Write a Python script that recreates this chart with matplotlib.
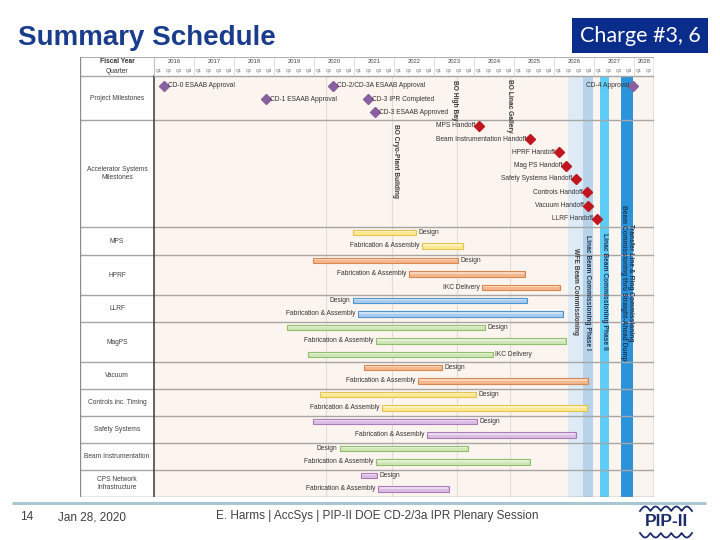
import matplotlib
matplotlib.use("Agg")
import matplotlib.pyplot as plt
from matplotlib import font_manager as fm
from matplotlib.patches import Rectangle
import numpy as np

_names = {f.name for f in fm.fontManager.ttflist}
SANS = "Liberation Sans"
NARROW = "Liberation Sans Narrow" if "Liberation Sans Narrow" in _names else "Liberation Sans"
CAL = "Lato"
plt.rcParams["font.family"] = [SANS, "DejaVu Sans"]

# ---------------- data (dates in fiscal-year decimal) ----------------
fiscal_years = [2016, 2017, 2018, 2019, 2020, 2021, 2022, 2023, 2024, 2025, 2026, 2027, 2028]
quarter_labels = ["Q1", "Q2", "Q3", "Q4"]
fy_end = 2028.5

proj_ms_names = ["CD-0 ESAAB Approval", "CD-1 ESAAB Approval", "CD-2/CD-3A ESAAB Approval",
                 "CD-3 IPR Completed", "CD-3 ESAAB Approved", "CD-4 Approval"]
proj_ms_dates = [2016.25, 2018.80, 2020.475, 2021.35, 2021.525, 2027.975]
proj_ms_side = ["right", "right", "right", "right", "right", "left"]
proj_ms_line = [0, 1, 0, 1, 2, 0]

acc_ms_names = ["MPS Handoff", "Beam Instrumentation Handoff", "HPRF Handoff", "Mag PS Handoff",
                "Safety Systems Handoff", "Controls Handoff", "Vacuum Handoff", "LLRF Handoff"]
acc_ms_dates = [2024.125, 2025.40, 2026.125, 2026.30, 2026.55, 2026.825, 2026.85, 2027.075]

systems = ["MPS", "HPRF", "LLRF", "MagPS", "Vacuum", "Controls inc. Timing",
           "Safety Systems", "Beam Instrumentation", "CPS Network\nInfrastructure"]
task_system = [0, 0, 1, 1, 1, 2, 2, 3, 3, 3, 4, 4, 5, 5, 6, 6, 7, 7, 8, 8]
task_names = ["Design", "Fabrication & Assembly",
              "Design", "Fabrication & Assembly", "IKC Delivery",
              "Design", "Fabrication & Assembly",
              "Design", "Fabrication & Assembly", "IKC Delivery",
              "Design", "Fabrication & Assembly",
              "Design", "Fabrication & Assembly",
              "Design", "Fabrication & Assembly",
              "Design", "Fabrication & Assembly",
              "Design", "Fabrication & Assembly"]
task_start = [2020.975, 2022.70,
              2019.975, 2022.375, 2024.20,
              2020.975, 2021.10,
              2019.325, 2021.55, 2019.85,
              2021.25, 2022.60,
              2020.15, 2021.70,
              2019.975, 2022.825,
              2020.65, 2021.55,
              2021.175, 2021.60]
task_end = [2022.55, 2023.725,
            2023.60, 2025.275, 2026.15,
            2025.325, 2026.225,
            2024.275, 2026.30, 2024.475,
            2023.20, 2026.85,
            2024.05, 2026.825,
            2024.075, 2026.55,
            2023.85, 2025.40,
            2021.575, 2023.375]
task_label_side = ["right", "left",
                   "right", "left", "left",
                   "left", "left",
                   "right", "left", "right",
                   "right", "left",
                   "right", "left",
                   "right", "left",
                   "left", "left",
                   "right", "left"]

phase_names = ["WFE Beam Commissioning", "Linac Beam Commissioning Phase I",
               "Linac Beam Commissioning Phase II",
               "Transfer Line & Ring Commissioning\nBeam Commissioning thru Straight-Ahead Dump"]
phase_start = [2026.35, 2026.725, 2027.15, 2027.675]
phase_end = [2026.725, 2026.975, 2027.375, 2027.975]

marker_names = ["", "BO Cryo-Plant Building", "BO High Bay", "BO Linac Gallery"]
marker_dates = [2020.30, 2021.95, 2023.575, 2024.90]

# ---------------- styles / layout ----------------
W, H = 720, 540
sys_fill = ["#fbe98f", "#f5b78c", "#a9cdee", "#cfe6b6", "#f5b78c", "#fbe98f", "#dcbde4", "#cfe6b6", "#dcbde4"]
sys_edge = ["#e6c34e", "#d98752", "#4e95cf", "#8fbf6c", "#d98752", "#e6c34e", "#a97bb8", "#8fbf6c", "#a97bb8"]
phase_color = ["#deebf6", "#b6d3ea", "#5dcdf7", "#2b93da"]
phase_text_color = ["#3a3a3a", "#1f3553", "#1f3553", "#1f3553"]
phase_text_top = [248, 235, 233, 205]
marker_text_top = [0, 124, 80, 79]
marker_text_dx = [0, 0.08, -0.07, -0.02]

row_bounds = [76, 120, 227, 255, 295, 322, 362, 389, 416, 443, 470, 497]
table_top, header_mid, header_bot = 57, 66.5, 76
x_left_px, x_lab_px, x_right_px = 80, 154, 654
px_per_year = 40.0
x_min = fiscal_years[0] - (x_lab_px - x_left_px) / px_per_year
FS = 4.8

fig = plt.figure(figsize=(7.2, 5.4), dpi=100)

# slide decoration axes (pixel coordinates)
deco = fig.add_axes([0, 0, 1, 1], zorder=0)
deco.set_xlim(0, W)
deco.set_ylim(H, 0)
deco.axis("off")

deco.text(18, 38, "Summary Schedule", fontsize=20, fontweight="bold", color="#1a3c8c",
          ha="left", va="center", family=SANS)
deco.add_patch(Rectangle((572, 18), 136, 35, color="#0a2d8c", lw=0))
deco.text(640, 35.5, "Charge #3, 6", fontsize=15.5, color="white", ha="center", va="center", family=CAL)

deco.plot([12, 706], [502.5, 502.5], color="#a9c6d3", lw=2.2, solid_capstyle="butt")
deco.text(20, 517, "14", fontsize=8.5, color="#404040", ha="left", va="center", family=NARROW)
deco.text(58, 517, "Jan 28, 2020", fontsize=8.5, color="#404040", ha="left", va="center", family=NARROW)
deco.text(377, 515.5, "E. Harms | AccSys | PIP-II DOE CD-2/3a IPR Plenary Session", fontsize=8.5,
          color="#404040", ha="center", va="center", family=NARROW)
# PIP-II logo
deco.text(666, 522, "PIP-II", fontsize=12.5, fontweight="bold", color="#1d2c6b", ha="center",
          va="center", family=NARROW)
t = np.linspace(0, 5 * np.pi, 300)
wx = np.linspace(640, 692, 300)
deco.plot(wx, 511 - 4.5 * np.abs(np.sin(t)), color="#1d2c6b", lw=1.3)
deco.plot(wx, 533 + 4.5 * np.abs(np.sin(t)), color="#1d2c6b", lw=1.3)

# ---------------- chart axes ----------------
ax = fig.add_axes([x_left_px / W, 1 - row_bounds[-1] / H, (x_right_px - x_left_px) / W,
                   (row_bounds[-1] - table_top) / H], zorder=1)
ax.set_xlim(x_min, fy_end)
ax.set_ylim(row_bounds[-1], table_top)
ax.axis("off")

# backgrounds
ax.add_patch(Rectangle((x_min, table_top), fy_end - x_min, row_bounds[-1] - table_top,
                       color="white", lw=0, zorder=0))
ax.add_patch(Rectangle((fiscal_years[0], header_bot), fy_end - fiscal_years[0],
                       row_bounds[-1] - header_bot, color="#fcf4ee", lw=0, zorder=0))

# phases (vertical bands)
for name, s, e, c, tc, top in zip(phase_names, phase_start, phase_end, phase_color,
                                  phase_text_color, phase_text_top):
    ax.add_patch(Rectangle((s, header_bot), e - s, row_bounds[-1] - header_bot, color=c, lw=0, zorder=1))
    ax.text((s + e) / 2, top, name, rotation=-90, ha="center", va="top", fontsize=FS,
            color=tc, fontweight="bold", linespacing=1.1, zorder=6)

# marker lines
for name, d, top, dx in zip(marker_names, marker_dates, marker_text_top, marker_text_dx):
    ax.plot([d, d], [header_bot, row_bounds[-1]], color="#e3dcd6", lw=0.8, zorder=1)
    if name:
        ax.text(d + dx, top, name, rotation=-90, ha="center", va="top", fontsize=FS,
                color="#3a3a3a", fontweight="bold", zorder=6)

# header
ax.text((x_min + fiscal_years[0]) / 2, (table_top + header_mid) / 2, "Fiscal Year", fontsize=FS,
        ha="center", va="center", color="#333333", fontweight="bold")
ax.text((x_min + fiscal_years[0]) / 2, (header_mid + header_bot) / 2, "Quarter", fontsize=FS,
        ha="center", va="center", color="#333333")
for yr in fiscal_years:
    x_end_year = min(yr + 1, fy_end)
    ax.text((yr + x_end_year) / 2, (table_top + header_mid) / 2, str(yr), fontsize=4.2,
            ha="center", va="center", color="#444444")
    for qi, ql in enumerate(quarter_labels):
        qx = yr + (qi + 0.5) / 4
        if qx < fy_end:
            ax.text(qx, (header_mid + header_bot) / 2, ql, fontsize=3.2, ha="center",
                    va="center", color="#555555")
    if yr > fiscal_years[0]:
        ax.plot([yr, yr], [table_top, header_bot], color="#d9d9d9", lw=0.6, zorder=2)

# grid lines of table
for yb in row_bounds[:-1]:
    ax.plot([x_min, fy_end], [yb, yb], color="#a6a6a6", lw=1.0, zorder=3)
ax.plot([x_min, fy_end], [row_bounds[-1], row_bounds[-1]], color="#8c8c8c", lw=1.0, zorder=3)
ax.plot([x_min, fy_end], [table_top, table_top], color="#b0b0b0", lw=0.8, zorder=3)
ax.plot([x_min, x_min], [table_top, row_bounds[-1]], color="#8c8c8c", lw=1.0, zorder=3)
ax.plot([fy_end, fy_end], [table_top, row_bounds[-1]], color="#8c8c8c", lw=1.0, zorder=3)
ax.plot([fiscal_years[0], fiscal_years[0]], [header_bot, row_bounds[-1]], color="#3a3a3a", lw=1.1, zorder=4)
ax.plot([fiscal_years[0], fiscal_years[0]], [table_top, header_bot], color="#bfbfbf", lw=0.8, zorder=4)

lab_x = (x_min + fiscal_years[0]) / 2
row_titles = ["Project Milestones", "Accelerator Systems\nMilestones"] + systems
for i, rt in enumerate(row_titles):
    ax.text(lab_x, (row_bounds[i] + row_bounds[i + 1]) / 2, rt, fontsize=FS, ha="center",
            va="center", color="#404040", linespacing=1.3)

pad = 0.06
# project milestones
for name, d, side, ln in zip(proj_ms_names, proj_ms_dates, proj_ms_side, proj_ms_line):
    y = row_bounds[0] + 9.7 + 13.3 * ln
    ax.plot(d, y, marker="D", ms=5.2, color="#8a5fa0", mec="#8a5fa0", zorder=7)
    if side == "right":
        ax.text(d + pad + 0.04, y, name, fontsize=FS, ha="left", va="center", color="#333333", zorder=7)
    else:
        ax.text(d - pad - 0.04, y, name, fontsize=FS, ha="right", va="center", color="#333333", zorder=7)

# accelerator systems milestones
for i, (name, d) in enumerate(zip(acc_ms_names, acc_ms_dates)):
    y = row_bounds[1] + 5.7 + 13.3 * i
    ax.plot(d, y, marker="D", ms=5.2, color="#c0161e", mec="#c0161e", zorder=7)
    ax.text(d - pad - 0.04, y, name, fontsize=FS, ha="right", va="center", color="#333333", zorder=7)

# tasks
slot = [0] * len(systems)
for name, si, s, e, side in zip(task_names, task_system, task_start, task_end, task_label_side):
    y = row_bounds[2 + si] + 5.3 + 13.6 * slot[si]
    slot[si] += 1
    ax.barh(y, e - s, left=s, height=5.2, color=sys_fill[si], edgecolor=sys_edge[si], lw=0.8, zorder=5)
    ax.barh(y - 0.9, e - s - 0.06, left=s + 0.03, height=1.4, color="white", alpha=0.45, lw=0, zorder=5)
    if side == "right":
        ax.text(e + pad, y, name, fontsize=FS, ha="left", va="center", color="#333333", zorder=7)
    else:
        ax.text(s - pad, y, name, fontsize=FS, ha="right", va="center", color="#333333", zorder=7)

fig.savefig("out.png", dpi=100)
